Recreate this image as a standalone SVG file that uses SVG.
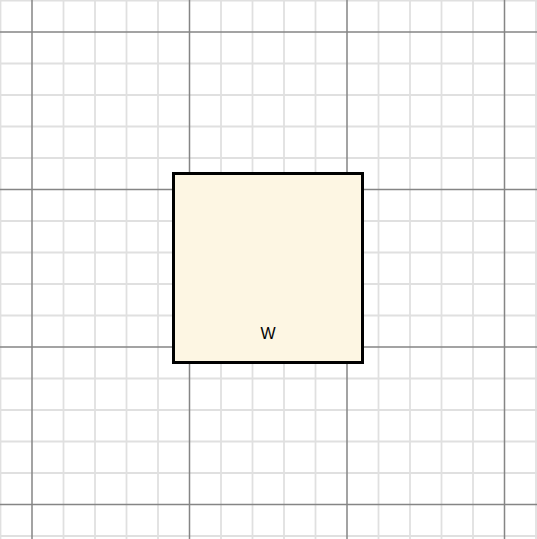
<svg xmlns="http://www.w3.org/2000/svg" width="537" height="539" viewBox="0 0 537 539">
<defs>
<style>
.minor{stroke:#e0e0e0;stroke-width:1.8;fill:none}
.major{stroke:#858585;stroke-width:1.5;fill:none}
.box{fill:#fdf6e3;stroke:#000;stroke-width:3}
.lbl{font-family:"Liberation Sans",Arial,sans-serif;font-size:16px;fill:#000}
</style>
</defs>
<rect width="537" height="539" fill="#fff"/>
<g id="grid">
<path class="minor" d="M0.5 0V539M63.5 0V539M95 0V539M126.5 0V539M158 0V539M221 0V539M252.5 0V539M284 0V539M315.5 0V539M378.5 0V539M410 0V539M441.5 0V539M473 0V539M536 0V539M0 0.5H537M0 63.5H537M0 95H537M0 126.5H537M0 158H537M0 221H537M0 252.5H537M0 284H537M0 315.5H537M0 378.5H537M0 410H537M0 441.5H537M0 473H537M0 536H537"/>
<path class="major" d="M32 0V539M189.5 0V539M347 0V539M504.5 0V539M0 32H537M0 189.5H537M0 347H537M0 504.5H537"/>
</g>
<g id="connectors"></g>
<g id="node-w">
<rect class="box" x="173.5" y="173.5" width="189" height="189"/>
<text class="lbl" x="268" y="339" text-anchor="middle">W</text>
</g>
</svg>
